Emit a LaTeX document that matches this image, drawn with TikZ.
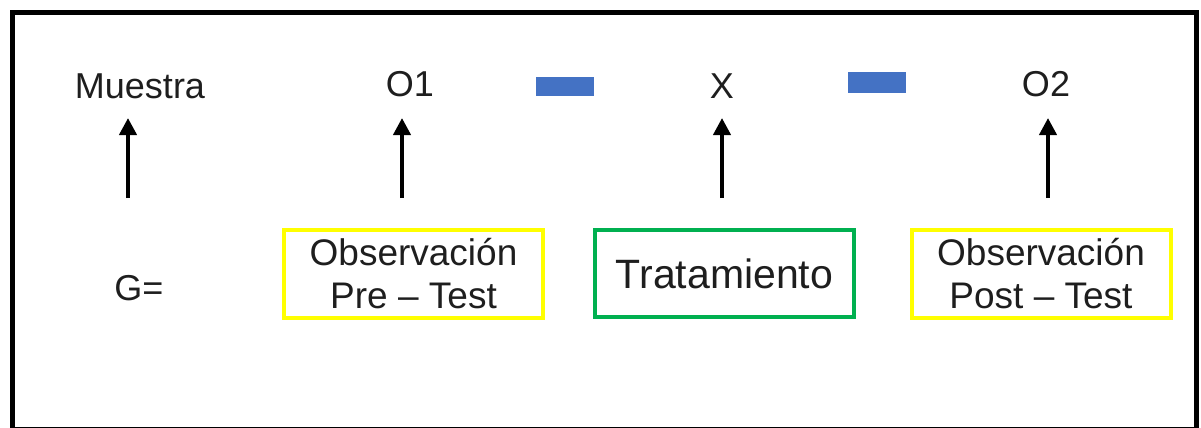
\documentclass[tikz,border=0pt]{standalone}
\usepackage{fontspec}
\setmainfont{Liberation Sans}
\usetikzlibrary{arrows.meta}
\definecolor{dashblue}{HTML}{4472C4}
\definecolor{boxyellow}{HTML}{FFFF00}
\definecolor{boxgreen}{HTML}{00B050}
\definecolor{ink}{HTML}{1E1E1E}
\begin{document}
\begin{tikzpicture}[x=0.5pt,y=-0.5pt,
  label/.style={anchor=base,inner sep=0pt,text=ink,font=\fontsize{18pt}{21.5pt}\selectfont},
  stagebox/.style={draw,line width=2pt,minimum width=129.5pt,minimum height=44pt,
    inner sep=0pt,align=center,text=ink,font=\fontsize{18.5pt}{21.5pt}\selectfont},
  uparrow/.style={line width=2pt,-{Triangle[width=8.5pt,length=8.5pt]}},
  joiner/.style={fill=dashblue,draw=none}]
  \useasboundingbox (0,0) rectangle (1201,428);
  % outer frame
  \draw[line width=2.5pt] (12,12) rectangle (1196,429);

  % top row
  \node[label] (muestra) at (140,98) {Muestra};
  \node[label] (o1) at (410,97) {O1};
  \node[label] (x) at (722,98) {X};
  \node[label] (o2) at (1046,97) {O2};

  % blue joiners
  \fill[joiner] (536,77) rectangle (594,96);
  \fill[joiner] (848,72) rectangle (906,93);

  % bottom row
  \node[label] (g) at (139,300) {G=};
  \node[stagebox,draw=boxyellow] (pre) at (413.5,274) {Observación\\Pre – Test};
  \node[stagebox,draw=boxgreen,minimum height=43.5pt,font=\fontsize{20.5pt}{24pt}\selectfont] (trat) at (724.5,273.5) {Tratamiento};
  \node[stagebox,draw=boxyellow] (post) at (1041,274) {Observación\\Post – Test};

  % arrow ends
  \coordinate (m0) at (128,198); \coordinate (m1) at (128,118);
  \coordinate (p0) at (402,198); \coordinate (p1) at (402,118);
  \coordinate (t0) at (722,198); \coordinate (t1) at (722,118);
  \coordinate (q0) at (1048,198); \coordinate (q1) at (1048,118);
  \draw[uparrow] (m0) -- (m1);
  \draw[uparrow] (p0) -- (p1);
  \draw[uparrow] (t0) -- (t1);
  \draw[uparrow] (q0) -- (q1);
\end{tikzpicture}
\end{document}
